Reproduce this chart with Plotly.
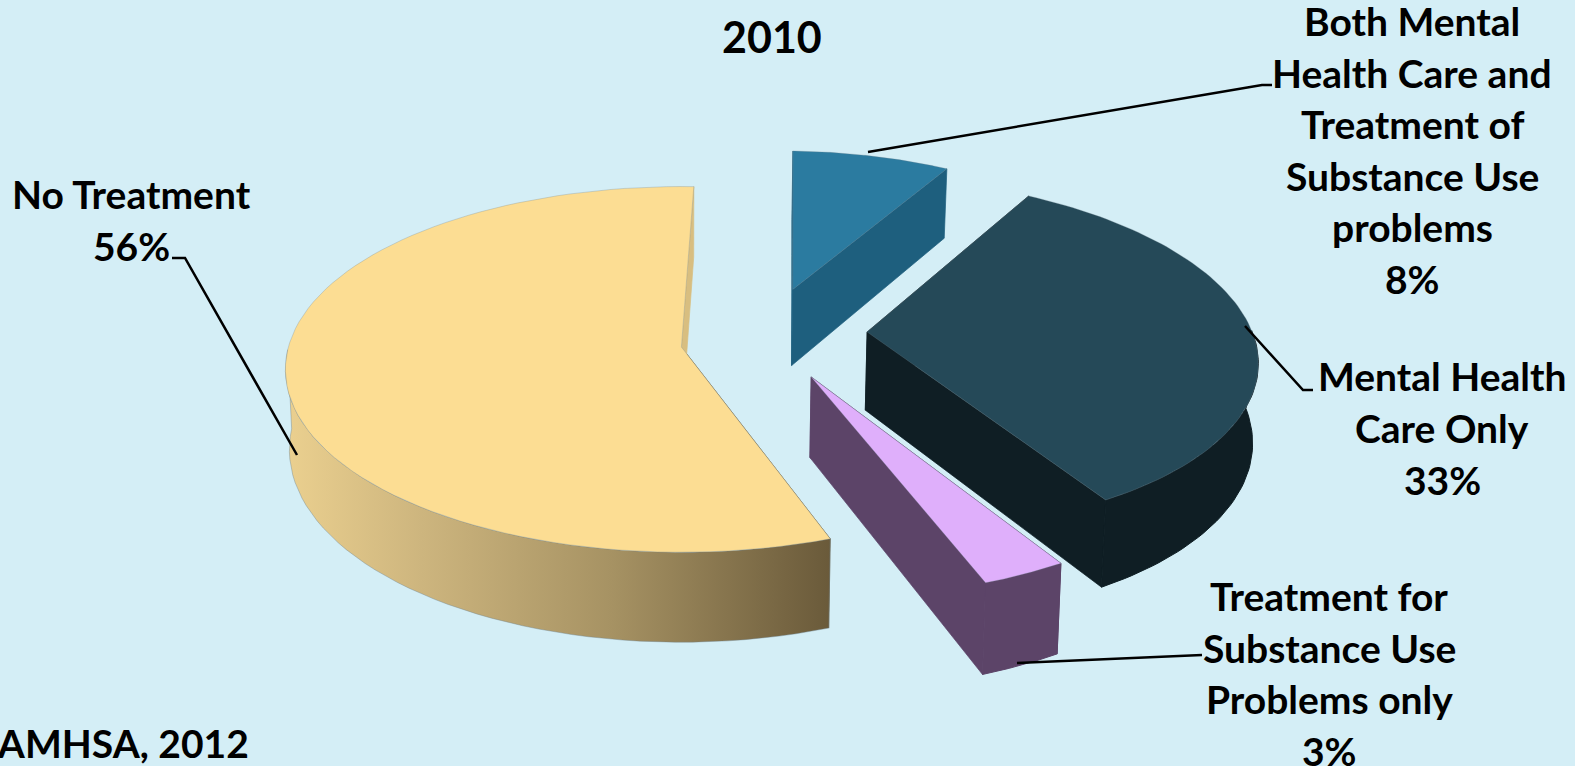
import numpy as np
import plotly.graph_objects as go

# Shares of adults by treatment received, clockwise from the top of the pie
categories = ["Both Mental Health Care and Treatment of Substance Use problems",
              "Mental Health Care Only",
              "Treatment for Substance Use Problems only",
              "No Treatment"]
shares = [8, 33, 3, 56]

# Disc offset of every slice in the pie's own plane (right, back) and its radius
explode = [(0.289, 0.33), (0.471, 0.084), (0.318, -0.162), (-0.004, 0.0)]
radius = [0.92, 0.985, 1.02, 0.995]

top_colors = ["#2B7BA0", "#254958", "#DFAFFB", "#FCDD93"]
wall_colors = ["#1E5F7E", "#0F1E24", "#5C4468", "#D8BE80"]
yellow_wall_scale = [[0, "#EBD08F"], [0.25, "#CDB57E"], [0.6, "#A69263"], [1, "#6A5A3A"]]
edge_color = "rgba(110,130,140,0.4)"

# Camera of the tilted pie
CX, CY = 683.0, 347.0
RX, RY = 395.0, 181.0
PERSP = 0.123
DEPTH = 79.0
SHRINK = 0.01
START_DEG = 2.0


def project(u, v, lowered=False):
    w = 1 + PERSP * np.asarray(v, dtype=float)
    x = np.asarray(u, dtype=float) * RX / w
    y = -np.asarray(v, dtype=float) * RY / w
    if lowered:
        return CX + x * (1 - SHRINK), CY + y + DEPTH / w
    return CX + x, CY + y


def polygon(fig, xs, ys, color, gradient=None, line=None, width=1):
    trace = dict(x=list(xs) + [xs[0]], y=list(ys) + [ys[0]], mode="lines", fill="toself",
                 line=dict(color=line or color, width=width), hoverinfo="skip", showlegend=False)
    if gradient:
        trace["fillgradient"] = dict(type="horizontal", colorscale=gradient)
    else:
        trace["fillcolor"] = color
    fig.add_trace(go.Scatter(**trace))


fig = go.Figure()

angle = START_DEG
for i, share in enumerate(shares):
    a0, a1 = angle, angle + share * 3.6
    angle = a1
    theta = np.radians(np.linspace(a0, a1, 90))
    ox, oy = explode[i]
    u = ox + radius[i] * np.sin(theta)
    v = oy + radius[i] * np.cos(theta)

    ax, ay = project(ox, oy)
    adx, ady = project(ox, oy, True)
    tx, ty = project(u, v)
    bx, by = project(u, v, True)

    # radial faces; the yellow slice's leading face sits at the dark end of its wall
    polygon(fig, [ax, tx[0], bx[0], adx], [ay, ty[0], by[0], ady],
            "#6A5A3A" if i == 3 else wall_colors[i], width=0.7)
    polygon(fig, [ax, tx[-1], bx[-1], adx], [ay, ty[-1], by[-1], ady], wall_colors[i], width=0.7)

    # outer wall, only the part turned towards the viewer
    front = np.cos(theta) < 0.02
    if front.any():
        fx, fy = tx[front], ty[front]
        gx, gy = bx[front], by[front]
        polygon(fig, np.r_[fx, gx[::-1]], np.r_[fy, gy[::-1]], wall_colors[i],
                gradient=yellow_wall_scale if i == 3 else None,
                line=edge_color if i == 3 else None)

    # top face
    polygon(fig, np.r_[ax, tx], np.r_[ay, ty], top_colors[i], line=edge_color, width=0.7)

# Leader lines from the slices to their labels
leaders = [
    ([868, 152, 1262, 85, 1272, 85]),
    ([1245, 326, 1303, 390, 1313, 390]),
    ([1017, 663, 1196, 655, 1202, 655]),
    ([297, 455, 185, 258, 172, 258]),
]
for seg in leaders:
    fig.add_trace(go.Scatter(x=seg[0::2], y=seg[1::2], mode="lines",
                             line=dict(color="#000000", width=2.5),
                             hoverinfo="skip", showlegend=False))

# Text blocks: x centre, first row centre, lines
FONT = dict(family="Lato, 'Open Sans', sans-serif", size=39, color="#000000")
LINE = 51.6
blocks = [
    (1412, 21, ["Both Mental", "Health Care and", "Treatment of", "Substance Use", "problems", "8%"]),
    (1442, 376, ["Mental Health"]),
    (1442, 428, ["Care Only"]),
    (1442, 480, ["33%"]),
    (1329, 596, ["Treatment for", "Substance Use", "Problems only", "3%"]),
    (131, 194, ["No Treatment"]),
    (131, 246, ["56%"]),
]
annotations = [dict(x=772, y=36, xref="x", yref="y", text="<b>2010</b>", showarrow=False,
                    xanchor="center", yanchor="middle", font=dict(FONT, size=43))]
for xc, y0, lines in blocks:
    for n, text in enumerate(lines):
        annotations.append(dict(x=xc, y=y0 + n * LINE, xref="x", yref="y", text="<b>%s</b>" % text,
                                showarrow=False, xanchor="center", yanchor="middle", font=FONT))
annotations.append(dict(x=251, y=743, xref="x", yref="y", text="<b>SAMHSA, 2012</b>",
                        showarrow=False, xanchor="right", yanchor="middle", font=FONT))

fig.update_layout(
    width=1575, height=766, margin=dict(l=0, r=0, t=0, b=0),
    paper_bgcolor="#D4EEF6", plot_bgcolor="#D4EEF6", showlegend=False,
    xaxis=dict(range=[0, 1575], visible=False, fixedrange=True),
    yaxis=dict(range=[766, 0], visible=False, fixedrange=True),
    annotations=annotations,
)

fig.write_html("out.html", config={"displayModeBar": False})
